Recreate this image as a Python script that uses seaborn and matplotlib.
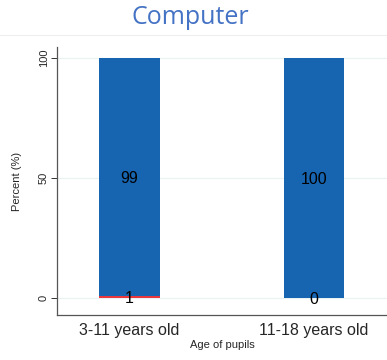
import matplotlib
matplotlib.use("Agg")
import matplotlib.pyplot as plt
import seaborn as sns
import pandas as pd
from matplotlib.lines import Line2D

categories = ["3-11 years old", "11-18 years old"]
no_values = [1, 0]
yes_values = [99, 100]

sns.set_style("white")
plt.rcParams['font.family'] = ['Liberation Sans', 'DejaVu Sans']

df = pd.DataFrame({"age": categories, "no": no_values, "yes": yes_values})
df["total"] = df["no"] + df["yes"]

fig = plt.figure(figsize=(3.87, 3.6), dpi=100)
ax = fig.add_axes([57/387, 1-315/360, 1-57/387, (315-47)/360])

blue = "#1764B0"
red = "#E8383D"
sns.barplot(data=df, x="age", y="total", color=blue, width=0.33, ax=ax,
            saturation=1, edgecolor="none", zorder=2)
sns.barplot(data=df, x="age", y="no", color=red, width=0.33, ax=ax,
            saturation=1, edgecolor="none", zorder=3)

for i, (n, y) in enumerate(zip(no_values, yes_values)):
    ax.text(i, n + y / 2, str(y), ha="center", va="center_baseline", fontsize=11.5, color="black", zorder=5)
    ax.text(i, n / 2, str(n), ha="center", va="center_baseline", fontsize=11.5, color="black", zorder=5)

ax.set_xlim(-0.393, 1.396)
ax.set_ylim(-7.1, 104.6)
ax.set_yticks([0, 50, 100])
ax.set_yticklabels(["0", "50", "100"], rotation=90, va="center", fontsize=8)
ax.yaxis.grid(True, color="#EAF2F2", linewidth=0.9, zorder=0)
ax.tick_params(axis="y", length=4, width=0.7, color="#333333", pad=2, left=True)
ax.tick_params(axis="x", length=0, pad=6, labelsize=11.5)
ax.set_xlabel("Age of pupils", fontsize=8, labelpad=1)
ax.set_ylabel("Percent (%)", fontsize=8, labelpad=12)
for s in ["top", "right"]:
    ax.spines[s].set_visible(False)
for s in ["left", "bottom"]:
    ax.spines[s].set_color("#555555")
    ax.spines[s].set_linewidth(0.9)

fig.text(190/387, 1-18/360, "Computer", ha="center", va="center", fontsize=18,
         color="#4472C4", family=["Open Sans", "DejaVu Sans"])
fig.add_artist(Line2D([0, 1], [1-35/360, 1-35/360], color="#EEEEEE", linewidth=0.8,
                      transform=fig.transFigure))

fig.savefig("out.png", dpi=100)
